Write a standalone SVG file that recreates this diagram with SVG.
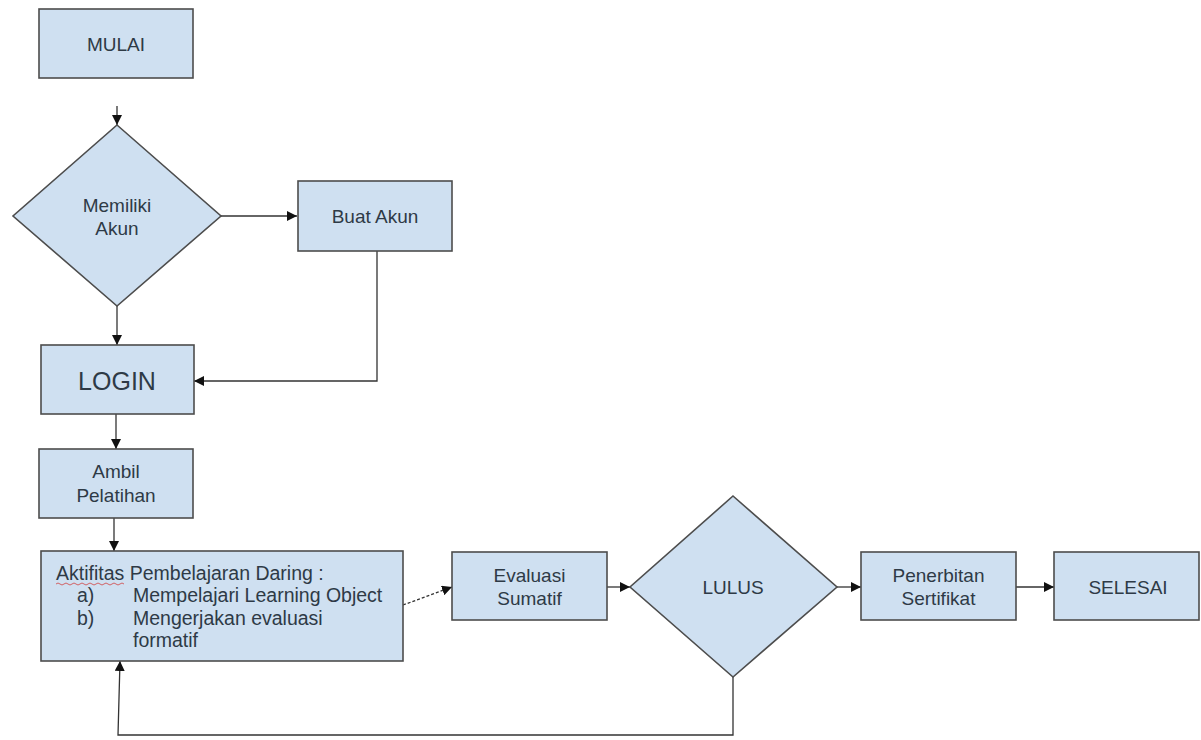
<svg xmlns="http://www.w3.org/2000/svg" width="1201" height="740" viewBox="0 0 1201 740">
<style>
.box{fill:#cfe0f1;stroke:#4d4d4d;stroke-width:1.6}
.t{font-family:"Liberation Sans",Arial,sans-serif;font-size:19px;fill:#2e3a46;text-anchor:middle}
.tl{font-family:"Liberation Sans",Arial,sans-serif;font-size:19.5px;fill:#2e3a46}
.c{fill:none;stroke:#333;stroke-width:1.3}
</style>
<defs>
<marker id="ah" viewBox="0 0 10 10" refX="10" refY="5" markerWidth="10" markerHeight="10" markerUnits="userSpaceOnUse" orient="auto">
<path d="M0,0 L10,5 L0,10 z" fill="#111"/>
</marker>
</defs>
<rect width="1201" height="740" fill="#ffffff"/>
<g id="connectors">
<path class="c" d="M117,106 L117,125" marker-end="url(#ah)"/>
<path class="c" d="M221,216 L297,216" marker-end="url(#ah)"/>
<path class="c" d="M117,306 L117,345" marker-end="url(#ah)"/>
<path class="c" d="M377,251 L377,381 L194,381" marker-end="url(#ah)"/>
<path class="c" d="M116,414 L116,449" marker-end="url(#ah)"/>
<path class="c" d="M114,518 L114,551" marker-end="url(#ah)"/>
<path class="c" d="M403,605 L452,587" stroke-dasharray="3,2" marker-end="url(#ah)"/>
<path class="c" d="M607,587 L630,587" marker-end="url(#ah)"/>
<path class="c" d="M837,587 L861,587" marker-end="url(#ah)"/>
<path class="c" d="M1016,587 L1054,587" marker-end="url(#ah)"/>
<path class="c" d="M733,677 L733,735 L118,735 L120,661" marker-end="url(#ah)"/>
</g>
<g id="mulai">
<rect class="box" x="39" y="9" width="154" height="69"/>
<text class="t" x="116" y="51">MULAI</text>
</g>
<g id="memiliki-akun">
<polygon class="box" points="117,125 221,216 117,306 13,216"/>
<text class="t" x="117" y="212">Memiliki</text>
<text class="t" x="117" y="235">Akun</text>
</g>
<g id="buat-akun">
<rect class="box" x="298" y="181" width="154" height="70"/>
<text class="t" x="375" y="223">Buat Akun</text>
</g>
<g id="login">
<rect class="box" x="41" y="345" width="153" height="69"/>
<text class="t" x="117" y="390" style="font-size:25px">LOGIN</text>
</g>
<g id="ambil-pelatihan">
<rect class="box" x="39" y="449" width="154" height="69"/>
<text class="t" x="116" y="478">Ambil</text>
<text class="t" x="116" y="502">Pelatihan</text>
</g>
<g id="aktifitas">
<rect class="box" x="41" y="551" width="362" height="110"/>
<text class="tl" x="56" y="580">Aktifitas Pembelajaran Daring :</text>
<path d="M56,584 q2,-2 4,0 t4,0 t4,0 t4,0 t4,0 t4,0 t4,0 t4,0 t4,0 t4,0 t4,0 t4,0 t4,0 t4,0 t4,0 t4,0 t4,0" fill="none" stroke="#d04040" stroke-width="0.8"/>
<text class="tl" x="77" y="602">a)</text>
<text class="tl" x="133" y="602">Mempelajari Learning Object</text>
<text class="tl" x="77" y="625">b)</text>
<text class="tl" x="133" y="625">Mengerjakan evaluasi</text>
<text class="tl" x="133" y="647">formatif</text>
</g>
<g id="evaluasi-sumatif">
<rect class="box" x="452" y="552" width="155" height="68"/>
<text class="t" x="529.5" y="582">Evaluasi</text>
<text class="t" x="529.5" y="605">Sumatif</text>
</g>
<g id="lulus">
<polygon class="box" points="733,496 837,587 733,677 630,587"/>
<text class="t" x="733" y="594">LULUS</text>
</g>
<g id="penerbitan-sertifikat">
<rect class="box" x="861" y="552" width="155" height="68"/>
<text class="t" x="938.5" y="582">Penerbitan</text>
<text class="t" x="938.5" y="605">Sertifikat</text>
</g>
<g id="selesai">
<rect class="box" x="1054" y="552" width="145" height="68"/>
<text class="t" x="1128" y="594">SELESAI</text>
</g>
</svg>
